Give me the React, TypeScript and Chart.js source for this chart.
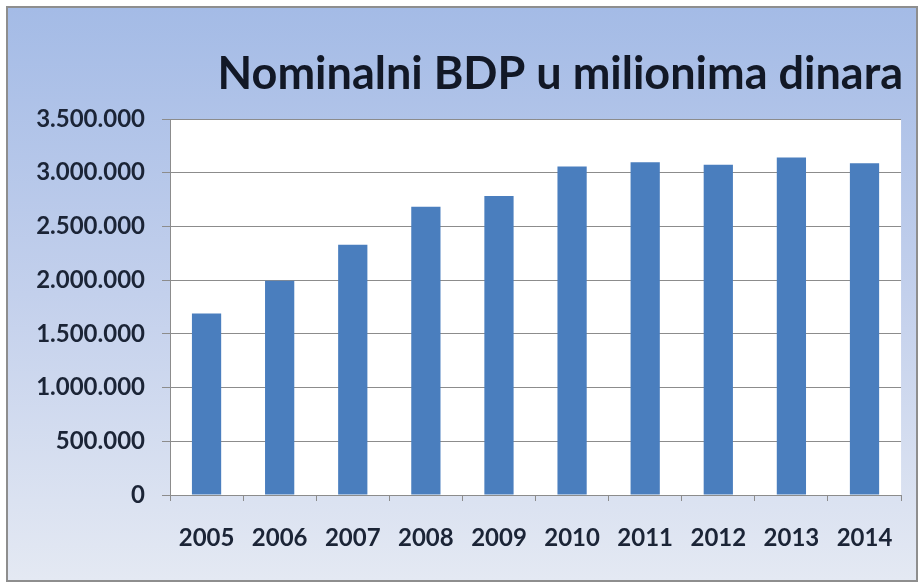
import React, { useEffect, useRef } from "react";
import { Chart, registerables } from "chart.js";

Chart.register(...registerables);

const years = ["2005", "2006", "2007", "2008", "2009", "2010", "2011", "2012", "2013", "2014"];
const gdpValues = [1690000, 1995000, 2330000, 2684000, 2784000, 3057000, 3098000, 3073000, 3141000, 3088000];
const yTickValues = [0, 500000, 1000000, 1500000, 2000000, 2500000, 3000000, 3500000];
const titleText = "Nominalni BDP u milionima dinara";

const fmt = (v: number) => String(v).replace(/\B(?=(\d{3})+(?!\d))/g, ".");

const plotBg = {
  id: "plotBg",
  beforeDraw(chart: any) {
    const { ctx, chartArea } = chart;
    ctx.save();
    ctx.fillStyle = "#ffffff";
    ctx.fillRect(chartArea.left, chartArea.top, chartArea.right - chartArea.left, chartArea.bottom - chartArea.top);
    ctx.restore();
  },
};

export default function App() {
  const ref = useRef<HTMLCanvasElement | null>(null);
  useEffect(() => {
    if (!ref.current) return;
    const chart = new Chart(ref.current, {
      type: "bar",
      data: {
        labels: years,
        datasets: [
          {
            data: gdpValues,
            backgroundColor: "#4a7ebe",
            borderWidth: 0,
            categoryPercentage: 1,
            barPercentage: 0.4,
          },
        ],
      },
      options: {
        animation: false,
        responsive: false,
        layout: { padding: { left: 0, right: 13, top: 0, bottom: 0 } },
        plugins: {
          legend: { display: false },
          tooltip: { enabled: false },
          title: {
            display: true,
            text: titleText,
            align: "end",
            color: "#121826",
            font: { family: "Lato", size: 45, weight: "bold", lineHeight: 1.2 },
            padding: { top: 39, bottom: 18 },
          },
        },
        scales: {
          x: {
            grid: {
              display: true,
              drawOnChartArea: false,
              drawTicks: true,
              tickLength: 6,
              color: "#8c8c8c",
              offset: true,
            },
            border: { display: true, color: "#8c8c8c" },
            ticks: {
              color: "#1b2436",
              font: { family: "Lato", size: 24, weight: "bold" },
              padding: 23,
              maxRotation: 0,
            },
            afterFit(scale: any) {
              scale.height = 85;
            },
          },
          y: {
            min: 0,
            max: 3500000,
            afterBuildTicks(scale: any) {
              scale.ticks = yTickValues.map((v) => ({ value: v }));
            },
            grid: {
              color: "#8c8c8c",
              lineWidth: 1,
              tickLength: 8,
            },
            border: { display: true, color: "#8c8c8c" },
            ticks: {
              color: "#1b2436",
              font: { family: "Lato", size: 24, weight: "bold" },
              padding: 17,
              callback: (v: any) => fmt(Number(v)),
            },
            afterFit(scale: any) {
              scale.width = 162;
            },
          },
        },
      },
      plugins: [plotBg],
    });
    return () => chart.destroy();
  }, []);

  return (
    <div
      style={{
        position: "fixed",
        left: 6,
        top: 6,
        width: 912,
        height: 576,
        boxSizing: "border-box",
        border: "2px solid #8e8e8e",
        background: "linear-gradient(to bottom, #a4bbe6 0%, #c3d0ec 50%, #e4e9f3 100%)",
      }}
    >
      <canvas ref={ref} width={908} height={572} style={{ display: "block" }} />
    </div>
  );
}
